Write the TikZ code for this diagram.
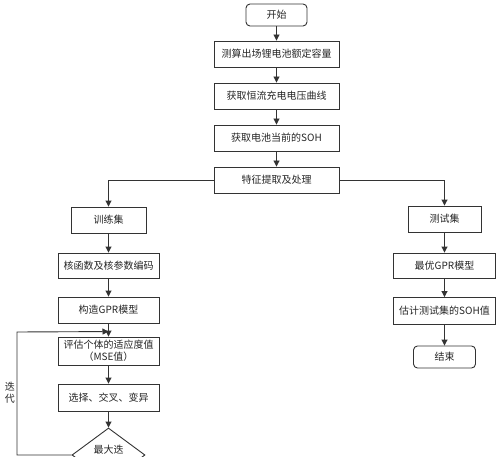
\documentclass[tikz,border=0pt]{standalone}
\usepackage{fontspec}
\setmainfont{Noto Sans CJK SC}
\usetikzlibrary{arrows.meta,shapes.geometric,calc}
\begin{document}
\begin{tikzpicture}[x=1pt,y=-1pt,
  every node/.style={font=\fontsize{10}{13}\selectfont, text=black!85},
  box/.style={draw=black!80, line width=0.9pt, fill=white, inner sep=0pt, align=center},
  rbox/.style={box, rounded corners=4pt},
  arr/.style={draw=black!80, line width=0.9pt, -{Triangle[length=6pt,width=6pt]}},
  ln/.style={draw=black!80, line width=0.9pt}]
\clip (0,0) rectangle (500,457);
\useasboundingbox (0,0) rectangle (500,457);
\fill[white] (0,0) rectangle (500,457);
\node[rbox, minimum width=61pt, minimum height=22pt] (start) at (276.5,15) {开始};
\node[box, minimum width=125pt, minimum height=26pt] (b1) at (276.5,54) {测算出场锂电池额定容量};
\node[box, minimum width=125pt, minimum height=26pt] (b2) at (276.5,96) {获取恒流充电电压曲线};
\node[box, minimum width=125pt, minimum height=26pt] (b3) at (276.5,138) {获取电池当前的SOH};
\node[box, minimum width=125pt, minimum height=26pt] (b4) at (276.5,180) {特征提取及处理};
\node[box, minimum width=75pt, minimum height=26pt] (train) at (108.5,220) {训练集};
\node[box, minimum width=73pt, minimum height=26pt] (test) at (444.5,219) {测试集};
\node[box, minimum width=101pt, minimum height=25pt] (kern) at (108.5,265.5) {核函数及核参数编码};
\node[box, minimum width=102pt, minimum height=25pt] (best) at (444.5,265.5) {最优GPR模型};
\node[box, minimum width=101pt, minimum height=26pt] (gpr) at (108.5,310) {构造GPR模型};
\node[box, minimum width=102pt, minimum height=27pt] (est) at (444.5,311) {估计测试集的SOH值};
\node[rbox, minimum width=62pt, minimum height=22pt] (end) at (444.5,357) {结束};
\node[box, minimum width=101pt, minimum height=28pt, font=\fontsize{10}{12}\selectfont] (eval) at (108.5,351) {评估个体的适应度值\\（MSE值）};
\node[box, minimum width=101pt, minimum height=27pt] (sel) at (108.5,397.5) {选择、交叉、变异};
\node[box, diamond, minimum width=73pt, minimum height=54pt] (dec) at (108.5,455) {};
\node (dectxt) at (108.5,450) {最大迭};
\node[align=center, font=\fontsize{10}{12}\selectfont] (iter) at (10,393) {迭\\代};
\coordinate (lc) at ($(eval.north)+(0,-5)$);
\coordinate (lb) at (17,455);
\coordinate (lt) at (17,332);
\draw[arr] (start) -- (b1);
\draw[arr] (b1) -- (b2);
\draw[arr] (b2) -- (b3);
\draw[arr] (b3) -- (b4);
\draw[arr] (b4.west) -| (train.north);
\draw[arr] (b4.east) -| (test.north);
\draw[arr] (train) -- (kern);
\draw[arr] (kern) -- (gpr);
\draw[arr] (gpr) -- (eval);
\draw[arr] (eval) -- (sel);
\draw[arr] (sel) -- (dec);
\draw[arr] (test) -- (best);
\draw[arr] (best) -- (est);
\draw[arr] (est) -- (end);
\draw[arr] (dec.west) -- (lb) -- (lt) -- (lc);
\end{tikzpicture}
\end{document}
